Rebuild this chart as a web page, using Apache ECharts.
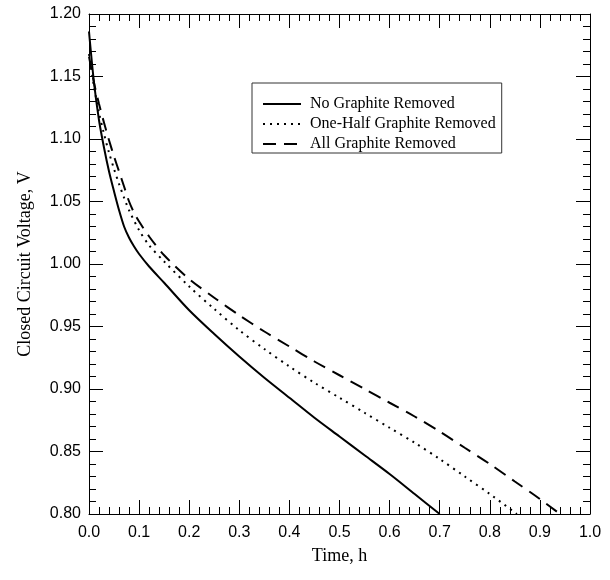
<!DOCTYPE html>
<html>
<head>
<meta charset="utf-8">
<script src="https://cdn.jsdelivr.net/npm/echarts@6/dist/echarts.min.js"></script>
<style>
	html, body { margin: 0; padding: 0; background: #fff; }
	#chart { width: 610px; height: 580px; }
</style>
</head>
<body>
<div id="chart"></div>
<script>
// time (h) and closed circuit voltage (V) for each cell
const timeNone = [0, 0.01, 0.02, 0.03, 0.04, 0.05, 0.06, 0.07, 0.08, 0.09, 0.10, 0.12, 0.15, 0.20, 0.25, 0.30, 0.35, 0.40, 0.45, 0.50, 0.55, 0.60, 0.65, 0.70]
const voltNone = [1.186, 1.145, 1.115, 1.093, 1.074, 1.058, 1.043, 1.030, 1.021, 1.014, 1.008, 0.998, 0.985, 0.963, 0.944, 0.926, 0.909, 0.893, 0.877, 0.862, 0.847, 0.832, 0.816, 0.800]

const timeHalf = [0, 0.01, 0.02, 0.03, 0.04, 0.05, 0.06, 0.07, 0.08, 0.10, 0.12, 0.15, 0.20, 0.25, 0.30, 0.35, 0.40, 0.45, 0.50, 0.55, 0.60, 0.65, 0.70, 0.75, 0.80, 0.854]
const voltHalf = [1.168, 1.142, 1.121, 1.104, 1.089, 1.076, 1.064, 1.053, 1.043, 1.027, 1.015, 1.002, 0.982, 0.964, 0.947, 0.932, 0.918, 0.905, 0.893, 0.881, 0.869, 0.857, 0.844, 0.830, 0.816, 0.800]

const timeAll = [0, 0.01, 0.02, 0.03, 0.04, 0.05, 0.06, 0.07, 0.08, 0.09, 0.10, 0.12, 0.15, 0.20, 0.25, 0.30, 0.35, 0.40, 0.45, 0.50, 0.55, 0.60, 0.65, 0.70, 0.75, 0.80, 0.85, 0.90, 0.94]
const voltAll = [1.166, 1.145, 1.128, 1.113, 1.099, 1.086, 1.074, 1.062, 1.050, 1.041, 1.034, 1.022, 1.007, 0.988, 0.973, 0.959, 0.946, 0.934, 0.922, 0.911, 0.900, 0.889, 0.878, 0.866, 0.853, 0.840, 0.826, 0.812, 0.800]

const seriesNames = ['No Graphite Removed', 'One-Half Graphite Removed', 'All Graphite Removed']

const pairs = (t, v) => t.map((x, i) => [x, v[i]])

const chart = echarts.init(document.getElementById('chart'))

const gridRect = { left: 89, top: 14, right: 20, bottom: 66 }

// major ticks on grid 0, minor ticks drawn by a twin grid 1 with the same rect
// onZero off so the right/top axes stay on their own edge
const majorAxis = {
	axisLine: { show: true, onZero: false, lineStyle: { color: '#000', width: 1 } },
	axisTick: { show: true, inside: true, length: 14, lineStyle: { color: '#000' } },
	splitLine: { show: false }
}
const minorAxis = {
	gridIndex: 1,
	axisLine: { show: false, onZero: false },
	axisTick: { show: true, inside: true, length: 7, lineStyle: { color: '#000' } },
	axisLabel: { show: false },
	splitLine: { show: false }
}
const xRange = { type: 'value', min: 0, max: 1 }
const yRange = { type: 'value', min: 0.8, max: 1.2 }

const lineSeries = (name, t, v, type) => ({
	name: name,
	type: 'line',
	data: pairs(t, v),
	showSymbol: false,
	symbol: 'none',
	smooth: 0.3,
	lineStyle: { color: '#000', width: 2, type: type },
	itemStyle: { color: '#000' }
})

chart.setOption({
	animation: false,
	grid: [gridRect, gridRect],
	legend: {
		orient: 'vertical',
		left: 252,
		top: 83,
		padding: [13, 6, 1, 10],
		itemGap: 4,
		itemWidth: 38,
		itemHeight: 14,
		borderColor: '#333',
		borderWidth: 1,
		borderRadius: 0,
		itemStyle: { opacity: 0 },
		textStyle: { fontFamily: 'Liberation Serif', fontSize: 16, color: '#000', padding: [0, 0, 0, 4] },
		data: seriesNames
	},
	xAxis: [
		Object.assign({}, xRange, majorAxis, {
			interval: 0.1,
			name: 'Time, h',
			nameLocation: 'middle',
			nameGap: 33,
			nameTextStyle: { fontFamily: 'Liberation Serif', fontSize: 18, color: '#000' },
			axisLabel: {
				fontFamily: 'Liberation Sans',
				fontSize: 16,
				color: '#000',
				margin: 11,
				formatter: v => v.toFixed(1)
			}
		}),
		Object.assign({}, xRange, majorAxis, { position: 'top', interval: 0.1, axisLabel: { show: false } }),
		Object.assign({}, xRange, minorAxis, { position: 'bottom', interval: 0.02 }),
		Object.assign({}, xRange, minorAxis, { position: 'top', interval: 0.02 })
	],
	yAxis: [
		Object.assign({}, yRange, majorAxis, {
			interval: 0.05,
			name: 'Closed Circuit Voltage, V',
			nameLocation: 'middle',
			nameGap: 55,
			nameTextStyle: { fontFamily: 'Liberation Serif', fontSize: 18, color: '#000' },
			axisLabel: {
				fontFamily: 'Liberation Sans',
				fontSize: 16,
				color: '#000',
				margin: 8,
				formatter: v => v.toFixed(2)
			}
		}),
		Object.assign({}, yRange, majorAxis, { position: 'right', interval: 0.05, axisLabel: { show: false } }),
		Object.assign({}, yRange, minorAxis, { position: 'left', interval: 0.01 }),
		Object.assign({}, yRange, minorAxis, { position: 'right', interval: 0.01 })
	],
	series: [
		lineSeries(seriesNames[0], timeNone, voltNone, 'solid'),
		lineSeries(seriesNames[1], timeHalf, voltHalf, [2, 5]),
		lineSeries(seriesNames[2], timeAll, voltAll, [13, 8])
	]
})
</script>
</body>
</html>
